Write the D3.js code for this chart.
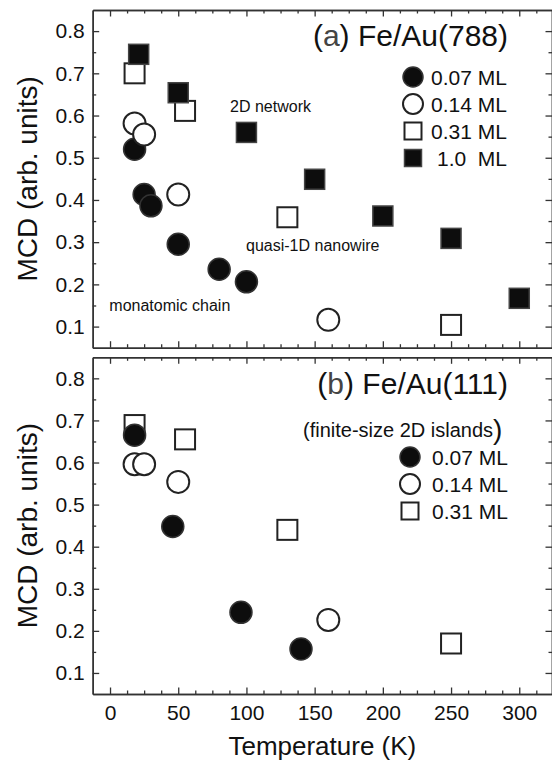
<!DOCTYPE html>
<html>
<head>
<meta charset="utf-8">
<script src="https://cdn.jsdelivr.net/npm/d3@7"></script>
<style>
  html, body { margin: 0; padding: 0; background: #fff; }
  svg text { font-family: "Liberation Sans", Arial, sans-serif; fill: #111; }
</style>
</head>
<body>
<div id="chart"></div>
<script>
// panel (a) Fe/Au(788)
const a007T = [18, 25, 30, 50, 80, 100];
const a007M = [0.52, 0.413, 0.386, 0.295, 0.236, 0.206];
const a014T = [18, 25, 50, 160];
const a014M = [0.581, 0.555, 0.413, 0.116];
const a031T = [18, 55, 130, 250];
const a031M = [0.70, 0.611, 0.359, 0.104];
const a10T = [21, 50, 100, 150, 200, 250, 300];
const a10M = [0.745, 0.654, 0.56, 0.449, 0.362, 0.309, 0.167];

// panel (b) Fe/Au(111)
const b007T = [18, 46, 96, 140];
const b007M = [0.665, 0.448, 0.244, 0.157];
const b014T = [18, 25, 50, 160];
const b014M = [0.596, 0.596, 0.554, 0.226];
const b031T = [18, 55, 130, 250];
const b031M = [0.689, 0.655, 0.44, 0.17];

// ticks
const xTicks = [0, 50, 100, 150, 200, 250, 300];
const xMinor = d3.range(12.5, 325, 12.5).filter(d => d % 50 !== 0);
const yTicks = [0.1, 0.2, 0.3, 0.4, 0.5, 0.6, 0.7, 0.8];
const yMinor = [0.15, 0.25, 0.35, 0.45, 0.55, 0.65, 0.75];

const width = 552, height = 764;
const left = 92.7, right = 552;
const axisColor = "#333";

const svg = d3.select("#chart").append("svg")
  .attr("width", width)
  .attr("height", height);

const x = d3.scaleLinear().domain([-12.7, 324]).range([left, right]);

function drawPanel(top, bottom, series, showX) {
  const y = d3.scaleLinear().domain([0.05, 0.85]).range([bottom, top]);
  const g = svg.append("g");

  // axes, ticks pointing inward
  const axes = [
    [d3.axisBottom(x).tickValues(xTicks).tickSize(-6.5), bottom, "x", showX],
    [d3.axisBottom(x).tickValues(xMinor).tickSize(-3.5), bottom, "x", false],
    [d3.axisTop(x).tickValues(xTicks).tickSize(-6.5), top, "x", false],
    [d3.axisTop(x).tickValues(xMinor).tickSize(-3.5), top, "x", false],
    [d3.axisLeft(y).tickValues(yTicks).tickSize(-6.5), left, "y", true],
    [d3.axisLeft(y).tickValues(yMinor).tickSize(-3.5), left, "y", false],
    [d3.axisRight(y).tickValues(yTicks).tickSize(-6.5), right, "y", false],
    [d3.axisRight(y).tickValues(yMinor).tickSize(-3.5), right, "y", false]
  ];
  axes.forEach(([ax, pos, dir, labels]) => {
    ax.tickSizeOuter(0);
    if (labels) {
      ax.tickFormat(dir === "x" ? d3.format("d") : d3.format(".1f"))
        .tickPadding(dir === "x" ? 11 : 8);
    } else {
      ax.tickFormat("");
    }
    const a = g.append("g")
      .attr("transform", dir === "x" ? `translate(0,${pos})` : `translate(${pos},0)`)
      .call(ax);
    a.select(".domain").attr("stroke", axisColor).attr("stroke-width", 1.5);
    a.selectAll(".tick line").attr("stroke", axisColor).attr("stroke-width", 1.3);
    a.selectAll(".tick text")
      .attr("font-size", 21)
      .attr("font-family", null)
      .attr("fill", "#111");
  });

  // markers
  series.forEach(s => {
    const pts = s.T.map((t, i) => ({ t: t, m: s.M[i] }));
    const grp = g.append("g");
    if (s.shape === "circle") {
      grp.selectAll("circle").data(pts).enter().append("circle")
        .attr("cx", d => x(d.t))
        .attr("cy", d => y(d.m))
        .attr("r", 11)
        .attr("fill", s.filled ? "#0d0d0d" : "#fff")
        .attr("stroke", s.filled ? "#333" : "#222")
        .attr("stroke-width", s.filled ? 1.5 : 2);
    } else {
      grp.selectAll("rect").data(pts).enter().append("rect")
        .attr("x", d => x(d.t) - 10)
        .attr("y", d => y(d.m) - 10)
        .attr("width", 20)
        .attr("height", 20)
        .attr("fill", s.filled ? "#0d0d0d" : "#fff")
        .attr("stroke", s.filled ? "#444" : "#222")
        .attr("stroke-width", s.filled ? 1.5 : 2);
    }
  });

  // y title
  g.append("text")
    .attr("transform", `translate(37,${(top + bottom) / 2}) rotate(-90)`)
    .attr("text-anchor", "middle")
    .attr("font-size", 28)
    .text("MCD (arb. units)");

  return { g: g, y: y };
}

function drawLegend(g, items, cx, textEnd, rows) {
  items.forEach((s, i) => {
    const cy = rows[i];
    if (s.shape === "circle") {
      g.append("circle").attr("cx", cx).attr("cy", cy).attr("r", 10)
        .attr("fill", s.filled ? "#0d0d0d" : "#fff")
        .attr("stroke", s.filled ? "#333" : "#222")
        .attr("stroke-width", s.filled ? 1.5 : 2);
    } else {
      g.append("rect").attr("x", cx - 8.5).attr("y", cy - 8.5)
        .attr("width", 17).attr("height", 17)
        .attr("fill", s.filled ? "#0d0d0d" : "#fff")
        .attr("stroke", s.filled ? "#444" : "#222")
        .attr("stroke-width", s.filled ? 1.5 : 2);
    }
    g.append("text")
      .attr("x", textEnd).attr("y", cy + 7.5)
      .attr("text-anchor", "end")
      .attr("font-size", 21)
      .style("white-space", "pre")
      .text(s.name);
  });
}

const seriesA = [
  { name: "0.07 ML", shape: "circle", filled: true, T: a007T, M: a007M },
  { name: "0.14 ML", shape: "circle", filled: false, T: a014T, M: a014M },
  { name: "0.31 ML", shape: "square", filled: false, T: a031T, M: a031M },
  { name: " 1.0  ML", shape: "square", filled: true, T: a10T, M: a10M }
];
const seriesB = [
  { name: "0.07 ML", shape: "circle", filled: true, T: b007T, M: b007M },
  { name: "0.14 ML", shape: "circle", filled: false, T: b014T, M: b014M },
  { name: "0.31 ML", shape: "square", filled: false, T: b031T, M: b031M }
];

// panel (a)
const pa = drawPanel(10, 347.7, seriesA, false);
const ta = pa.g.append("text").attr("x", 508).attr("y", 46)
  .attr("text-anchor", "end").attr("font-size", 30);
ta.append("tspan").text("(");
ta.append("tspan").attr("fill", "#444").text("a");
ta.append("tspan").text(") Fe/Au(788)");
drawLegend(pa.g, seriesA, 413, 507, [77, 104, 131, 158]);

pa.g.append("text").attr("x", x(88)).attr("y", pa.y(0.609))
  .attr("font-size", 16).text("2D network");
pa.g.append("text").attr("x", x(99.7)).attr("y", pa.y(0.28))
  .attr("font-size", 16).text("quasi-1D nanowire");
pa.g.append("text").attr("x", x(-0.5)).attr("y", pa.y(0.136))
  .attr("font-size", 16).text("monatomic chain");

// panel (b): squares first so the filled circle sits on top
const pb = drawPanel(357.3, 694, [seriesB[2], seriesB[1], seriesB[0]], true);
const tb = pb.g.append("text").attr("x", 508).attr("y", 394)
  .attr("text-anchor", "end").attr("font-size", 30);
tb.append("tspan").text("(");
tb.append("tspan").attr("fill", "#444").text("b");
tb.append("tspan").text(") Fe/Au(111)");
const tf = pb.g.append("text").attr("x", 303).attr("y", 437)
  .attr("font-size", 20);
tf.append("tspan").text("(finite-size 2D islands");
tf.append("tspan").attr("font-size", 28).attr("dy", 2).text(")");
drawLegend(pb.g, seriesB, 410, 508, [457, 484, 511]);

// x title
svg.append("text")
  .attr("x", (left + right) / 2)
  .attr("y", 755)
  .attr("text-anchor", "middle")
  .attr("font-size", 26)
  .text("Temperature (K)");
</script>
</body>
</html>
